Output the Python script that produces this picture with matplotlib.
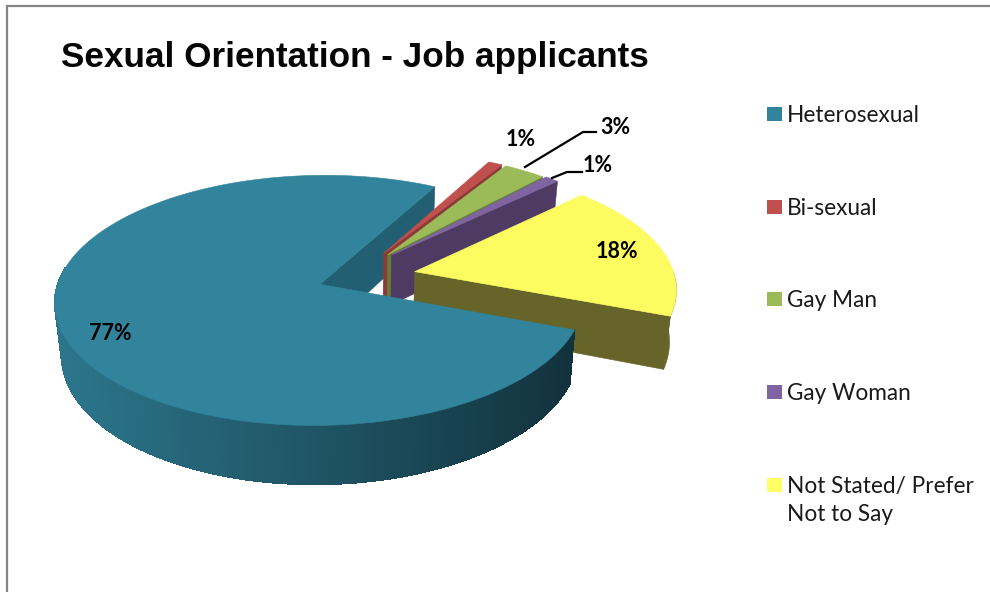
import numpy as np
import matplotlib
matplotlib.use("Agg")
import matplotlib.pyplot as plt
from matplotlib.patches import Polygon, Rectangle

# ---- data ----
categories = ["Heterosexual", "Bi-sexual", "Gay Man", "Gay Woman", "Not Stated/ Prefer\nNot to Say"]
shares = [77, 1, 3, 1, 18]
title = "Sexual Orientation - Job applicants"

# ---- style ----
top_colors = ["#31849b", "#c0504d", "#9bbb59", "#8064a2", "#fcfc60"]
swatch_colors = ["#31849b", "#c0504d", "#9bbb59", "#8064a2", "#ffff66"]
wall_colors = ["#225f72", "#8c3a38", "#667f36", "#4f3a63", "#666428"]
rim_left, rim_right = np.array([0x2c, 0x76, 0x8c]) / 255, np.array([0x12, 0x32, 0x3d]) / 255

cx, cy, a, b, h, k, taper = 364.0, 276.5, 260.0, 121.0, 51.0, 0.128, 0.022
explode = [0.18, 0.155, 0.155, 0.155, 0.20]
lift = [0.0, 0.06, 0.06, 0.07, 0.0]
start_deg = 62.0

fig = plt.figure(figsize=(9.9, 5.92), dpi=100, facecolor="white")
ax = fig.add_axes([0, 0, 1, 1])
ax.set_xlim(0, 990)
ax.set_ylim(592, 0)
ax.axis("off")


def project(X, Y, Z):
    X, Y, Z = np.asarray(X, float), np.asarray(Y, float), np.asarray(Z, float)
    s = 1 / (1 + k * Y)
    return np.column_stack([cx + a * X * s * (1 + taper * Z), cy - b * Y * s - h * Z * s])


def add(pts, color, z, aa=True):
    ax.add_patch(Polygon(pts, closed=True, facecolor=color, edgecolor=color, linewidth=0.4,
                         zorder=z, antialiased=aa))


spans = np.array(shares, float) / sum(shares) * 360.0
slices = [(start_deg, start_deg + spans[0])]
cur = start_deg
for sp in spans[1:]:
    slices.append((cur - sp, cur))
    cur -= sp


def offset(i):
    m = np.radians(sum(slices[i]) / 2)
    return explode[i] * np.cos(m), explode[i] * np.sin(m) + lift[i]


def top_poly(i):
    t0, t1 = slices[i]
    t = np.radians(np.linspace(t0, t1, 200))
    ox, oy = offset(i)
    X = np.r_[ox, ox + np.cos(t)]
    Y = np.r_[oy, oy + np.sin(t)]
    return project(X, Y, np.zeros_like(X))


def edge_wall(i, deg):
    ox, oy = offset(i)
    t = np.radians(deg)
    X = [ox, ox + np.cos(t), ox + np.cos(t), ox]
    Y = [oy, oy + np.sin(t), oy + np.sin(t), oy]
    return project(X, Y, [0, 0, -1, -1])


# back wall of the big slice
add(edge_wall(0, slices[0][0]), wall_colors[0], 1)

# small slices in back-to-front order
for i in [1, 2, 3, 4]:
    z = 1 + i
    add(edge_wall(i, slices[i][0]), wall_colors[i], z)
    if slices[i][0] < 0:
        t = np.radians(np.linspace(slices[i][0], 0, 40))
        ox, oy = offset(i)
        X = np.r_[ox + np.cos(t), ox + np.cos(t[::-1])]
        Y = np.r_[oy + np.sin(t), oy + np.sin(t[::-1])]
        Z = np.r_[np.zeros_like(t), -np.ones_like(t)]
        add(project(X, Y, Z), wall_colors[i], z)
    add(top_poly(i), top_colors[i], z + 0.5)

# rim of the big slice with its left-to-right shading
ox, oy = offset(0)
ts = np.radians(np.linspace(172, slices[0][1], 120))
xs_all = project(ox + np.cos(ts), oy + np.sin(ts), np.zeros_like(ts))[:, 0]
for j in range(len(ts) - 1):
    tt = ts[j:j + 2]
    X = np.r_[ox + np.cos(tt), ox + np.cos(tt[::-1])]
    Y = np.r_[oy + np.sin(tt), oy + np.sin(tt[::-1])]
    Z = [0, 0, -1, -1]
    f = (xs_all[j] - xs_all.min()) / (xs_all.max() - xs_all.min())
    add(project(X, Y, Z), rim_left + (rim_right - rim_left) * f, 7, aa=False)
add(top_poly(0), top_colors[0], 8)

# frame
ax.plot([7, 7, 990], [592, 6, 6], color="#868686", lw=1.6, zorder=0, solid_joinstyle="miter", clip_on=False)

# title
ax.text(61, 57, title, family="Liberation Sans", weight="bold", fontsize=25.3, color="#050505",
        ha="left", va="center", zorder=10)

# data labels
label_pos = [(110, 334), (521, 139), (615, 127), (598, 166), (617, 252)]
for v, (x, y) in zip(shares, label_pos):
    ax.text(x, y, f"{v}%", family="Lato", weight="bold", fontsize=15.5, color="#000000",
            ha="center", va="center", zorder=10)

# leader lines
ax.plot([525, 583, 596], [167, 132, 132], color="black", lw=1.6, zorder=9)
ax.plot([552, 567, 582], [178, 172, 172], color="black", lw=1.6, zorder=9)

# legend
legend_y0, legend_step = 114, 92.7
for i, (name, col) in enumerate(zip(categories, swatch_colors)):
    y = legend_y0 + i * legend_step
    ax.add_patch(Rectangle((767, y - 7), 15, 14, facecolor=col, edgecolor="none", zorder=10))
    ax.text(787, y - 9, name, family="Lato", fontsize=16.3, color="#1a1a1a",
            ha="left", va="top", linespacing=1.42, zorder=10)

fig.savefig("out.png", dpi=100, facecolor="white")
